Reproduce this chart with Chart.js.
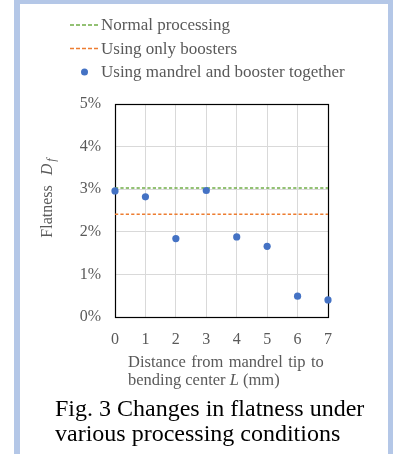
<!DOCTYPE html>
<html><head><meta charset="utf-8">
<script src="https://cdn.jsdelivr.net/npm/chart.js@4/dist/chart.umd.min.js"></script>
<style>
html,body{margin:0;padding:0;background:#fff;width:393px;height:454px;overflow:hidden}
#panel{position:absolute;left:14px;top:0;width:368px;height:480px;border-left:6px solid #B4C7E7;border-top:4px solid #B4C7E7;border-right:5px solid #B4C7E7;background:#fff}
#wrap{position:absolute;left:0;top:0;width:393px;height:454px}
</style></head><body>
<div id="panel"></div>
<div id="wrap"><canvas id="c"></canvas></div>
<script>
const distances = [0, 1, 2, 3, 4, 5, 6, 7];
const flatnessMandrelBooster = [2.96, 2.82, 1.84, 2.97, 1.88, 1.66, 0.49, 0.40];
const flatnessNormal = [3.03, 3.03];
const flatnessBoostersOnly = [2.41, 2.41];
const lineEnds = [0, 7];
const xTicks = [0, 1, 2, 3, 4, 5, 6, 7];
const yTicks = [0, 1, 2, 3, 4, 5];
const seriesLabels = ['Normal processing', 'Using only boosters', 'Using mandrel and booster together'];
const xTitleLines = ['Distance from mandrel tip to', 'bending center ', 'L', ' (mm)'];
const yTitleParts = ['Flatness', 'D', 'f'];
const captionLines = ['Fig. 3 Changes in flatness under', 'various processing conditions'];

const GREEN = '#70AD47', ORANGE = '#ED7D31', BLUE = '#4472C4', TXT = '#595959';
const SERIF = "'Liberation Serif', 'Times New Roman', serif";

const textPlugin = {
  id: 'texts',
  beforeDatasetsDraw(chart) {
    const {ctx, chartArea: a} = chart;
    ctx.save();
    ctx.strokeStyle = '#000';
    ctx.lineWidth = 1.2;
    ctx.strokeRect(a.left + 0.5, a.top + 0.5, a.right - a.left, a.bottom - a.top);
    ctx.restore();
  },
  afterDraw(chart) {
    const ctx = chart.ctx;
    ctx.save();
    // legend
    const legendY = [26, 49.5, 73];
    const colors = [GREEN, ORANGE, BLUE];
    ctx.font = '17px ' + SERIF;
    ctx.textBaseline = 'middle';
    ctx.textAlign = 'left';
    for (let i = 0; i < 3; i++) {
      if (i < 2) {
        ctx.strokeStyle = colors[i];
        ctx.lineWidth = 1.5;
        ctx.setLineDash([4, 2]);
        ctx.beginPath();
        ctx.moveTo(70, legendY[i] - 1);
        ctx.lineTo(99, legendY[i] - 1);
        ctx.stroke();
        ctx.setLineDash([]);
      } else {
        ctx.fillStyle = colors[i];
        ctx.beginPath();
        ctx.arc(84.5, legendY[i] - 1, 3.5, 0, Math.PI * 2);
        ctx.fill();
      }
      ctx.fillStyle = TXT;
      ctx.fillText(seriesLabels[i], 101, legendY[i]);
    }
    // y title
    ctx.save();
    ctx.translate(48, 198);
    ctx.rotate(-Math.PI / 2);
    ctx.fillStyle = TXT;
    ctx.textBaseline = 'middle';
    ctx.font = '16px ' + SERIF;
    const w1 = ctx.measureText(yTitleParts[0]).width;
    const gap = 10;
    ctx.font = 'italic 16px ' + SERIF;
    const w2 = ctx.measureText(yTitleParts[1]).width;
    ctx.font = 'italic 12px ' + SERIF;
    const w3 = ctx.measureText(yTitleParts[2]).width;
    const total = w1 + gap + w2 + 2 + w3;
    let x = -total / 2;
    ctx.font = '16px ' + SERIF;
    ctx.fillText(yTitleParts[0], x, 0);
    x += w1 + gap;
    ctx.font = 'italic 16px ' + SERIF;
    ctx.fillText(yTitleParts[1], x, 0);
    x += w2 + 2;
    ctx.font = 'italic 12px ' + SERIF;
    ctx.fillText(yTitleParts[2], x, 4);
    ctx.restore();
    // x title
    ctx.fillStyle = TXT;
    ctx.textBaseline = 'middle';
    ctx.font = '16.5px ' + SERIF;
    if ('wordSpacing' in ctx) ctx.wordSpacing = '1.3px';
    ctx.fillText(xTitleLines[0], 128, 363);
    if ('wordSpacing' in ctx) ctx.wordSpacing = '0px';
    let xx = 128;
    ctx.fillText(xTitleLines[1], xx, 381);
    xx += ctx.measureText(xTitleLines[1]).width;
    ctx.font = 'italic 16.5px ' + SERIF;
    ctx.fillText(xTitleLines[2], xx, 381);
    xx += ctx.measureText(xTitleLines[2]).width;
    ctx.font = '16.5px ' + SERIF;
    ctx.fillText(xTitleLines[3], xx, 381);
    // caption
    ctx.fillStyle = '#000';
    ctx.font = '24px ' + SERIF;
    ctx.fillText(captionLines[0], 55, 410);
    ctx.fillText(captionLines[1], 55, 435);
    ctx.restore();
  }
};

new Chart(document.getElementById('c'), {
  type: 'scatter',
  data: {
    datasets: [
      {
        label: seriesLabels[2],
        data: distances.map((d, i) => ({x: d, y: flatnessMandrelBooster[i]})),
        backgroundColor: BLUE,
        borderColor: BLUE,
        pointRadius: 3.6,
        pointBorderWidth: 0,
        order: 0
      },
      {
        type: 'line',
        label: seriesLabels[0],
        data: lineEnds.map((d, i) => ({x: d, y: flatnessNormal[i]})),
        borderColor: GREEN,
        borderWidth: 1.5,
        borderDash: [3.2, 2.2],
        pointRadius: 0,
        fill: false,
        order: 2
      },
      {
        type: 'line',
        label: seriesLabels[1],
        data: lineEnds.map((d, i) => ({x: d, y: flatnessBoostersOnly[i]})),
        borderColor: ORANGE,
        borderWidth: 1.5,
        borderDash: [3.2, 2.2],
        pointRadius: 0,
        fill: false,
        order: 1
      }
    ]
  },
  options: {
    responsive: true,
    maintainAspectRatio: false,
    animation: false,
    devicePixelRatio: 1,
    clip: false,
    layout: {padding: {left: 0, top: 104, right: 65, bottom: 97}},
    plugins: {legend: {display: false}, tooltip: {enabled: false}, title: {display: false}},
    scales: {
      x: {
        type: 'linear', min: 0, max: 7,
        afterFit: s => { s.height = 40; },
        afterBuildTicks: s => { s.ticks = xTicks.map(v => ({value: v})); },
        grid: {color: '#D9D9D9', lineWidth: 1, drawTicks: false},
        border: {display: false},
        ticks: {color: TXT, font: {family: SERIF, size: 16}, padding: 13, maxRotation: 0}
      },
      y: {
        type: 'linear', min: 0, max: 5,
        afterFit: s => { s.width = 115; },
        afterBuildTicks: s => { s.ticks = yTicks.map(v => ({value: v})); },
        grid: {color: '#D9D9D9', lineWidth: 1, drawTicks: false},
        border: {display: false},
        ticks: {color: TXT, font: {family: SERIF, size: 16}, padding: 14, callback: v => v + '%'}
      }
    }
  },
  plugins: [textPlugin]
});
</script>
</body></html>
